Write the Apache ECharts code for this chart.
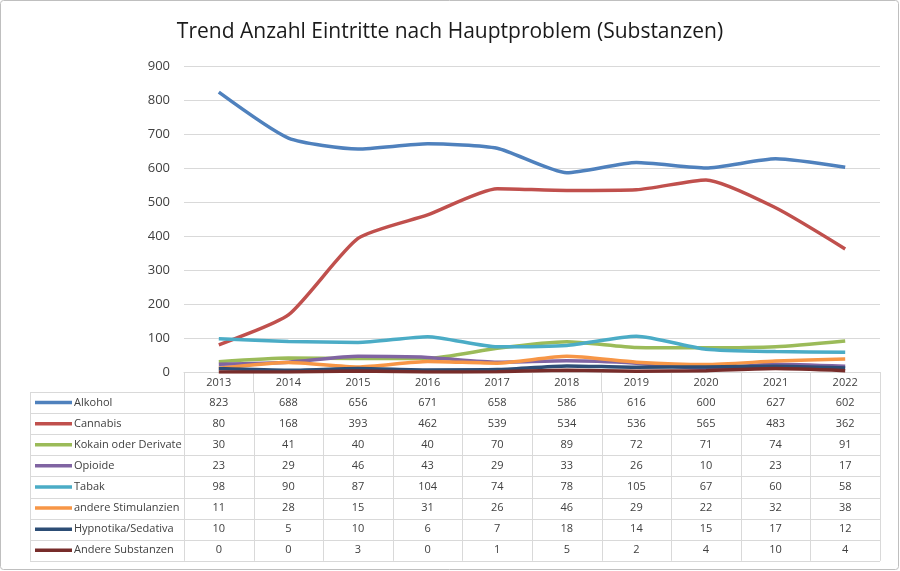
<!DOCTYPE html>
<html><head><meta charset="utf-8">
<script src="https://cdn.jsdelivr.net/npm/echarts@6/dist/echarts.min.js"></script>
<style>html,body{margin:0;padding:0;background:#fff}#c{width:900px;height:571px}</style>
</head><body><div id="c"></div>
<script>
const years = ['2013','2014','2015','2016','2017','2018','2019','2020','2021','2022'];
const alkohol = [823,688,656,671,658,586,616,600,627,602];
const cannabis = [80,168,393,462,539,534,536,565,483,362];
const kokain = [30,41,40,40,70,89,72,71,74,91];
const opioide = [23,29,46,43,29,33,26,10,23,17];
const tabak = [98,90,87,104,74,78,105,67,60,58];
const stimulanzien = [11,28,15,31,26,46,29,22,32,38];
const hypnotika = [10,5,10,6,7,18,14,15,17,12];
const andere = [0,0,3,0,1,5,2,4,10,4];
const yTicks = [0,100,200,300,400,500,600,700,800,900];

const seriesDefs = [
  {name:'Alkohol', data:alkohol, color:'#4F81BD'},
  {name:'Cannabis', data:cannabis, color:'#C0504D'},
  {name:'Kokain oder Derivate', data:kokain, color:'#9BBB59'},
  {name:'Opioide', data:opioide, color:'#8064A2'},
  {name:'Tabak', data:tabak, color:'#4BACC6'},
  {name:'andere Stimulanzien', data:stimulanzien, color:'#F79646'},
  {name:'Hypnotika/Sedativa', data:hypnotika, color:'#2C4D75'},
  {name:'Andere Substanzen', data:andere, color:'#772C2A'}
];
const FONT = 'Open Sans';
const chart = echarts.init(document.getElementById('c'), null, {renderer:'canvas'});
const gridLeft = 184, gridRight = 20, gridTop = 66, gridBottom = 199;
chart.setOption({
  animation:false,
  backgroundColor:'#fff',
  title:{text:'Trend Anzahl Eintritte nach Hauptproblem (Substanzen)', left:'center', top:17,
    textStyle:{fontFamily:FONT, fontSize:21, fontWeight:'normal', color:'#1a1a1a'}},
  grid:{left:gridLeft, right:gridRight, top:gridTop, bottom:gridBottom},
  xAxis:{type:'category', data:years, boundaryGap:true,
    axisLine:{lineStyle:{color:'#D9D9D9'}},
    axisTick:{show:true, length:20, alignWithLabel:false, lineStyle:{color:'#D9D9D9'}},
    axisLabel:{fontFamily:FONT, fontSize:11, color:'#404040', margin:5}},
  yAxis:{type:'value', min:0, max:900, interval:100,
    axisLine:{show:false}, axisTick:{show:false},
    splitLine:{lineStyle:{color:'#D9D9D9'}},
    axisLabel:{fontFamily:FONT, fontSize:13, color:'#404040', margin:14,
      formatter:v=>yTicks.includes(v)?String(v):''}},
  series: seriesDefs.slice().reverse().map(s=>({
    name:s.name, type:'line', data:s.data, smooth:0.2, symbol:'none',
    lineStyle:{width:3.5, color:s.color}, itemStyle:{color:s.color}
  })).reverse()
});

// Data table below the plot
const g = [];
const lineCol = '#D9D9D9';
const axisY = chart.convertToPixel({yAxisIndex:0}, 0);
const centers = years.map((y,i)=>chart.convertToPixel({xAxisIndex:0}, i));
const cw = centers[1]-centers[0];
const xStart = centers[0]-cw/2, xEnd = centers[centers.length-1]+cw/2;
const headerH = 20, rowH = 21.1;
const tableTop = axisY + headerH;
const tableLeft = 30;
const n = seriesDefs.length;
const tableBottom = tableTop + rowH*n;
for (let r=0;r<=n;r++){
  const y = Math.round(tableTop + r*rowH)+0.5;
  g.push({type:'line', shape:{x1:tableLeft, y1:y, x2:xEnd, y2:y}, style:{stroke:lineCol, lineWidth:1}});
}
g.push({type:'line', shape:{x1:tableLeft+0.5, y1:tableTop, x2:tableLeft+0.5, y2:tableBottom}, style:{stroke:lineCol}});
for (let i=0;i<=years.length;i++){
  const x = Math.round(xStart + i*cw)+0.5;
  g.push({type:'line', shape:{x1:x, y1:tableTop, x2:x, y2:tableBottom}, style:{stroke:lineCol}});
}
seriesDefs.forEach((s,r)=>{
  const cy = tableTop + r*rowH + rowH/2;
  g.push({type:'line', shape:{x1:35, y1:cy, x2:72, y2:cy}, style:{stroke:s.color, lineWidth:3.5}});
  g.push({type:'text', x:74, y:cy, style:{text:s.name, fontFamily:FONT, fontSize:11, fill:'#404040', textVerticalAlign:'middle', textAlign:'left'}});
  s.data.forEach((v,i)=>{
    g.push({type:'text', x:centers[i], y:cy, style:{text:String(v), fontFamily:FONT, fontSize:11, fill:'#404040', textAlign:'center', textVerticalAlign:'middle'}});
  });
});
g.push({type:'rect', shape:{x:0.5, y:0.5, width:898, height:569, r:3}, style:{fill:'none', stroke:'#BFBFBF', lineWidth:1}});
chart.setOption({graphic:g});
</script></body></html>
